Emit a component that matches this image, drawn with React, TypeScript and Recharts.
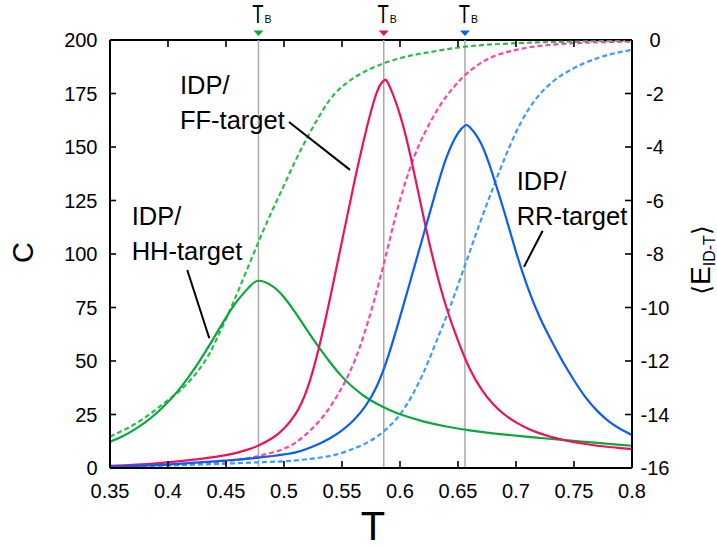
import React from 'react';
import { ComposedChart, Line, XAxis, YAxis, ReferenceLine, ReferenceDot, Customized } from 'recharts';

// ---- data ----
const xTicks = [0.35, 0.4, 0.45, 0.5, 0.55, 0.6, 0.65, 0.7, 0.75, 0.8];
const xTickLabels = ['0.35', '0.4', '0.45', '0.5', '0.55', '0.6', '0.65', '0.7', '0.75', '0.8'];
const cTicks = [0, 25, 50, 75, 100, 125, 150, 175, 200];
const eTicks = [-16, -14, -12, -10, -8, -6, -4, -2, 0];

// IDP/HH-target heat capacity
const hhT = [0.35, 0.36, 0.37, 0.38, 0.39, 0.40, 0.41, 0.42, 0.43, 0.44, 0.45, 0.46, 0.47, 0.478, 0.49, 0.50, 0.51, 0.52, 0.53, 0.54, 0.55, 0.56, 0.57, 0.58, 0.59, 0.60, 0.62, 0.64, 0.66, 0.68, 0.70, 0.72, 0.74, 0.76, 0.78, 0.80];
const hhC = [12.3, 14.6, 17.6, 21.2, 25.6, 30.8, 37, 44.2, 52.4, 61.3, 70.3, 78.3, 84.6, 87.5, 85, 79.8, 72.5, 64.3, 56.5, 49.2, 42.7, 37.5, 33.3, 30.0, 27.3, 25.1, 21.8, 19.4, 17.6, 16.2, 15.1, 14.1, 13.1, 12.2, 11.3, 10.4];
// IDP/HH-target energy
const hhET = [0.35, 0.378, 0.40, 0.41, 0.42, 0.428, 0.436, 0.446, 0.456, 0.467, 0.478, 0.488, 0.498, 0.51, 0.52, 0.53, 0.54, 0.55, 0.56, 0.57, 0.586, 0.60, 0.63, 0.656, 0.70, 0.75, 0.80];
const hhE = [-14.83, -14.18, -13.46, -13.12, -12.68, -12.25, -11.7, -10.8, -9.84, -8.7, -7.55, -6.55, -5.62, -4.5, -3.65, -2.88, -2.2, -1.75, -1.42, -1.17, -0.87, -0.68, -0.42, -0.25, -0.12, -0.06, -0.03];

// IDP/FF-target heat capacity
const ffT = [0.35, 0.39, 0.43, 0.45, 0.46, 0.47, 0.478, 0.49, 0.50, 0.51, 0.52, 0.53, 0.54, 0.55, 0.56, 0.57, 0.58, 0.586, 0.59, 0.60, 0.61, 0.62, 0.63, 0.64, 0.65, 0.66, 0.67, 0.68, 0.69, 0.70, 0.71, 0.72, 0.73, 0.74, 0.75, 0.76, 0.77, 0.78, 0.79, 0.80];
const ffC = [1.0, 2.2, 4.4, 6.0, 7.2, 8.8, 10.5, 14.0, 18.5, 25.3, 37, 56, 80, 106, 132, 156, 175.5, 181, 179.5, 165, 143.5, 118, 94.5, 75, 59.5, 46.5, 37, 30, 25, 21.3, 18.5, 16.3, 14.6, 13.2, 12.1, 11.2, 10.4, 9.8, 9.3, 8.9];
// IDP/FF-target energy
const ffET = [0.35, 0.40, 0.45, 0.478, 0.49, 0.50, 0.51, 0.522, 0.54, 0.5655, 0.577, 0.587, 0.597, 0.6115, 0.6287, 0.6517, 0.67, 0.70, 0.75, 0.80];
const ffE = [-15.95, -15.88, -15.75, -15.55, -15.42, -15.28, -15.05, -14.62, -13.7, -11.46, -9.85, -8.2, -6.45, -4.45, -2.87, -1.5, -0.85, -0.37, -0.12, -0.06];

// IDP/RR-target heat capacity
const rrT = [0.35, 0.40, 0.45, 0.47, 0.49, 0.50, 0.51, 0.52, 0.53, 0.54, 0.55, 0.56, 0.57, 0.58, 0.59, 0.60, 0.61, 0.62, 0.63, 0.64, 0.65, 0.656, 0.66, 0.67, 0.68, 0.69, 0.70, 0.71, 0.72, 0.73, 0.74, 0.75, 0.76, 0.77, 0.78, 0.79, 0.80];
const rrC = [0.7, 1.6, 3.5, 4.4, 5.6, 6.35, 7.3, 9.0, 11.2, 14.0, 17.6, 22.3, 28.8, 38.2, 52.5, 70.5, 89.5, 108.5, 127.5, 145, 156.5, 160, 159.3, 151.5, 137, 119.5, 101, 84.5, 71, 60, 50, 41, 33, 26.7, 21.8, 18.2, 15.4];
// IDP/RR-target energy
const rrET = [0.35, 0.4707, 0.514, 0.557, 0.5856, 0.60, 0.62, 0.632, 0.6417, 0.657, 0.668, 0.68, 0.69, 0.70, 0.71, 0.72, 0.732, 0.75, 0.77, 0.80];
const rrE = [-15.95, -15.8, -15.7, -15.33, -14.64, -14.0, -12.46, -11.2, -10.15, -8.3, -6.95, -5.55, -4.45, -3.45, -2.65, -2.05, -1.55, -1.05, -0.68, -0.37];

// transition temperatures T_B
const tbValues = [0.478, 0.586, 0.656];
const tbColors = ['#0aa83c', '#f0105a', '#0a5cff'];

// annotations: text anchor (T, C) and leader line ends (T, C)
const annotLines = [['IDP/', 'FF-target'], ['IDP/', 'HH-target'], ['IDP/', 'RR-target']];
const annotAnchorT = [0.4103, 0.3687, 0.7006];
const annotAnchorC = [175, 113.4, 129.8];
const leaderFrom = [[0.5043, 161.7], [0.4166, 92.5], [0.723, 110.9]];
const leaderTo = [[0.5569, 139.3], [0.4356, 60.6], [0.7069, 94]];

const zip = (ts: number[], vs: number[]) => ts.map((t, i) => ({ T: t, v: vs[i] }));

const FONT = '"Liberation Sans", Arial, Helvetica, sans-serif';
const W = 717;
const H = 547;
const M = { top: 40, right: 25, bottom: 39, left: 50 };
const PLOT_TOP = M.top;

const XTick = (props: any) => {
  const { x, y, index } = props;
  return (
    <g>
      <line x1={x} x2={x} y1={y} y2={y - 7} stroke="#000" strokeWidth={1.6} />
      <line x1={x} x2={x} y1={PLOT_TOP} y2={PLOT_TOP + 7} stroke="#000" strokeWidth={1.6} />
      <text x={x} y={y + 29.5} textAnchor="middle" fontSize={20} fontFamily={FONT} fill="#000">
        {xTickLabels[index]}
      </text>
    </g>
  );
};

const CTick = (props: any) => {
  const { x, y, payload } = props;
  return (
    <g>
      <line x1={x} x2={x + 6} y1={y} y2={y} stroke="#000" strokeWidth={1.6} />
      <text x={x - 12.5} y={y + 7} textAnchor="end" fontSize={20} fontFamily={FONT} fill="#000">
        {String(payload.value)}
      </text>
    </g>
  );
};

const ETick = (props: any) => {
  const { x, y, payload } = props;
  return (
    <g>
      <line x1={x} x2={x - 7} y1={y} y2={y} stroke="#000" strokeWidth={1.6} />
      <text x={x + 23} y={y + 7} textAnchor="middle" fontSize={20} fontFamily={FONT} fill="#000">
        {String(payload.value)}
      </text>
    </g>
  );
};

const TbMarker = (props: any) => {
  const { viewBox, color } = props;
  if (!viewBox) return null;
  const x = viewBox.x;
  const y = viewBox.y;
  return (
    <g>
      <polygon points={`${x - 5},${y - 9.5} ${x + 5},${y - 9.5} ${x},${y - 4}`} fill={color} />
      <text transform={`translate(${x - 6.3},${y - 17}) scale(0.92,1.32)`} x={0} y={0} fontSize={20} fontFamily={FONT} fill="#000">
        T
      </text>
      <text x={x + 6} y={y - 17} fontSize={10.5} fontFamily={FONT} fill="#000">
        B
      </text>
    </g>
  );
};

const AnnotText = (props: any) => {
  const { cx, cy, lines } = props;
  if (cx == null || cy == null) return null;
  return (
    <text x={cx} y={cy} fontSize={25.5} fontFamily={FONT} fill="#000">
      {lines.map((l: string, i: number) => (
        <tspan key={i} x={cx} dy={i === 0 ? 0 : 35}>
          {l}
        </tspan>
      ))}
    </text>
  );
};

const Titles = () => (
  <g>
    <text x={33} y={252.5} transform="rotate(-90 33 252.5)" textAnchor="middle" fontSize={29} fontFamily={FONT} fill="#000">
      C
    </text>
    <text x={710} y={260} transform="rotate(-90 710 260)" textAnchor="middle" fontSize={28} fontFamily={FONT} fill="#000">
      <tspan fontFamily={'"DejaVu Sans", sans-serif'} fontSize={25}>⟨</tspan>
      <tspan>E</tspan>
      <tspan fontSize={16} dy={5}>ID-T</tspan>
      <tspan fontFamily={'"DejaVu Sans", sans-serif'} fontSize={25} dy={-5}>⟩</tspan>
    </text>
    <text x={373} y={540} textAnchor="middle" fontSize={40} fontFamily={FONT} fill="#000">
      T
    </text>
  </g>
);

export default function App() {
  const solidW = 2.2;
  const dashW = 2.2;
  const dash = '5 3';
  return (
    <div style={{ position: 'absolute', left: 0, top: 0 }}>
      <ComposedChart width={W} height={H} margin={M}>
        <XAxis
          xAxisId="x"
          type="number"
          dataKey="T"
          domain={[0.35, 0.8]}
          ticks={xTicks}
          interval={0}
          allowDataOverflow
          height={40}
          tickSize={0}
          tickMargin={0}
          tickLine={false}
          tick={<XTick />}
          axisLine={{ stroke: '#000', strokeWidth: 2 }}
        />
        <YAxis
          yAxisId="C"
          orientation="left"
          type="number"
          domain={[0, 200]}
          ticks={cTicks}
          interval={0}
          allowDataOverflow
          width={60}
          tickSize={0}
          tickMargin={0}
          tickLine={false}
          tick={<CTick />}
          axisLine={{ stroke: '#000', strokeWidth: 2 }}
        />
        <YAxis
          yAxisId="E"
          orientation="right"
          type="number"
          domain={[-16, 0]}
          ticks={eTicks}
          interval={0}
          allowDataOverflow
          width={60}
          tickSize={0}
          tickMargin={0}
          tickLine={false}
          tick={<ETick />}
          axisLine={{ stroke: '#000', strokeWidth: 2 }}
        />
        <ReferenceLine xAxisId="x" yAxisId="C" y={200} stroke="#000" strokeWidth={2} />
        {tbValues.map((t, i) => (
          <ReferenceLine
            key={'tb' + i}
            xAxisId="x"
            yAxisId="C"
            x={t}
            stroke="#aaaaaa"
            strokeWidth={1.5}
            label={<TbMarker color={tbColors[i]} />}
          />
        ))}

        <Line xAxisId="x" yAxisId="E" data={zip(hhET, hhE)} dataKey="v" type="monotone" stroke="#2bbd4a" strokeWidth={dashW} strokeDasharray={dash} dot={false} isAnimationActive={false} />
        <Line xAxisId="x" yAxisId="E" data={zip(ffET, ffE)} dataKey="v" type="monotone" stroke="#ff45aa" strokeWidth={dashW} strokeDasharray={dash} dot={false} isAnimationActive={false} />
        <Line xAxisId="x" yAxisId="E" data={zip(rrET, rrE)} dataKey="v" type="monotone" stroke="#3d9bff" strokeWidth={dashW} strokeDasharray={dash} dot={false} isAnimationActive={false} />

        <Line xAxisId="x" yAxisId="C" data={zip(hhT, hhC)} dataKey="v" type="natural" stroke="#0aa83c" strokeWidth={solidW} dot={false} isAnimationActive={false} />
        <Line xAxisId="x" yAxisId="C" data={zip(ffT, ffC)} dataKey="v" type="natural" stroke="#f0105a" strokeWidth={solidW} dot={false} isAnimationActive={false} />
        <Line xAxisId="x" yAxisId="C" data={zip(rrT, rrC)} dataKey="v" type="natural" stroke="#0a5cff" strokeWidth={solidW} dot={false} isAnimationActive={false} />

        {leaderFrom.map((p, i) => (
          <ReferenceLine
            key={'ld' + i}
            xAxisId="x"
            yAxisId="C"
            segment={[{ x: p[0], y: p[1] }, { x: leaderTo[i][0], y: leaderTo[i][1] }]}
            stroke="#000"
            strokeWidth={2}
          />
        ))}
        {annotLines.map((lines, i) => (
          <ReferenceDot
            key={'an' + i}
            xAxisId="x"
            yAxisId="C"
            x={annotAnchorT[i]}
            y={annotAnchorC[i]}
            r={0}
            shape={(p: any) => <AnnotText {...p} lines={lines} />}
          />
        ))}
        <Customized component={Titles} />
      </ComposedChart>
    </div>
  );
}
